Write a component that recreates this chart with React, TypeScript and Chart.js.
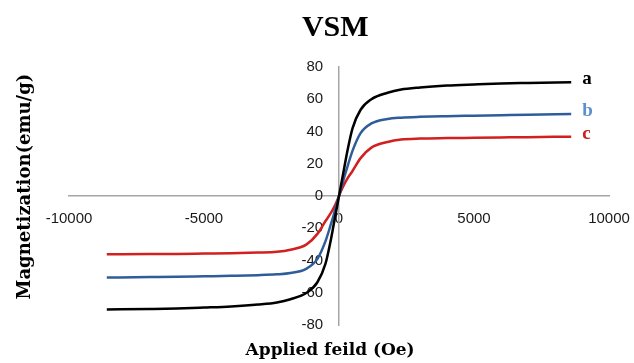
import React, { useEffect, useRef } from "react";
import { Chart, registerables } from "chart.js";

Chart.register(...registerables);

// Applied field (Oe)
const fieldOe = [
  -8600, -7000, -6000, -5000, -4000, -3000, -2300, -1800, -1200, -800, -500, -300, -200, -100,
  0, 100, 200, 300, 500, 800, 1200, 1800, 2300, 3000, 4000, 5000, 6000, 7000, 8600,
];

// Magnetization (emu/g)
const seriesA = [
  -70.4, -70.1, -69.8, -69.2, -68.5, -67.3, -66.0, -64.0, -60.0, -53.5, -42.0, -27.0, -18.0, -9.0,
  0, 9.0, 18.0, 27.0, 42.0, 53.5, 60.0, 64.0, 66.0, 67.3, 68.5, 69.2, 69.8, 70.1, 70.5,
];
const seriesB = [
  -50.6, -50.3, -50.1, -49.8, -49.5, -49.1, -48.6, -47.8, -45.0, -39.0, -28.0, -17.5, -12.0, -6.0,
  0, 6.0, 12.0, 17.5, 28.0, 39.0, 45.0, 47.8, 48.6, 49.1, 49.5, 49.8, 50.1, 50.4, 50.8,
];
const seriesC = [
  -36.2, -36.0, -35.9, -35.7, -35.5, -35.1, -34.6, -33.3, -30.0, -23.5, -15.5, -10.5, -7.5, -4.0,
  0, 4.0, 7.5, 10.5, 15.5, 23.5, 30.0, 33.5, 35.0, 35.6, 35.9, 36.1, 36.3, 36.5, 36.8,
];

const seriesNames = ["a", "b", "c"];
const seriesValues = [seriesA, seriesB, seriesC];
const lineColors = ["#000000", "#2f5d9a", "#d21f1f"];
const labelColors = ["#000000", "#5b8fd0", "#c8201e"];

const chartTitle = "VSM";
const xTitle = "Applied feild (Oe)";
const yTitle = "Magnetization(emu/g)";

const xMin = -10000;
const xMax = 10000;
const xStep = 5000;
const yMin = -80;
const yMax = 80;
const yStep = 20;

const endLabelPlugin = {
  id: "endLabels",
  afterDatasetsDraw(chart: any) {
    const ctx = chart.ctx;
    ctx.save();
    ctx.font = "bold 19px 'Liberation Serif'";
    ctx.textAlign = "left";
    ctx.textBaseline = "middle";
    chart.data.datasets.forEach((ds: any, i: number) => {
      const meta = chart.getDatasetMeta(i);
      const last = meta.data[meta.data.length - 1];
      if (!last) return;
      ctx.fillStyle = labelColors[i];
      ctx.fillText(seriesNames[i], last.x + 11, last.y - 3);
    });
    ctx.restore();
  },
};

export default function App() {
  const ref = useRef<HTMLCanvasElement | null>(null);

  useEffect(() => {
    if (!ref.current) return;
    const tickFont = { family: "'Liberation Sans', Arial, sans-serif", size: 15 };
    const chart = new Chart(ref.current, {
      type: "scatter",
      data: {
        datasets: seriesValues.map((vals, i) => ({
          label: seriesNames[i],
          data: fieldOe.map((x, j) => ({ x, y: vals[j] })),
          showLine: true,
          borderColor: lineColors[i],
          backgroundColor: lineColors[i],
          borderWidth: 2.5,
          pointRadius: 0,
          cubicInterpolationMode: "monotone" as const,
          xAxisID: "x",
          yAxisID: "y",
        })),
      },
      options: {
        responsive: false,
        animation: false,
        layout: { padding: { left: 0, right: 25, top: 0, bottom: 0 } },
        plugins: {
          legend: { display: false },
          tooltip: { enabled: false },
          title: {
            display: true,
            text: chartTitle + " ",
            fullSize: false,
            color: "#000",
            font: { family: "'Liberation Serif', serif", size: 30, weight: "bold" },
            padding: { top: 10, bottom: 21 },
          },
        },
        scales: {
          x: {
            type: "linear",
            min: xMin,
            max: xMax,
            position: { y: 0 } as any,
            ticks: {
              stepSize: xStep,
              autoSkip: false,
              maxRotation: 0,
              font: tickFont,
              color: "#1a1a1a",
              padding: 0,
              callback: (v: any) => String(v),
            },
            grid: { display: false, drawTicks: true, tickLength: 14 },
            border: { display: true, color: "#a6a6a6", width: 1.5 },
          },
          y: {
            type: "linear",
            min: yMin,
            max: yMax,
            position: { x: 0 } as any,
            ticks: {
              stepSize: yStep,
              autoSkip: false,
              font: tickFont,
              color: "#1a1a1a",
              callback: (v: any) => String(v) + "\u2002  ",
            },
            grid: { display: false, drawTicks: false },
            border: { display: true, color: "#a6a6a6", width: 1.5 },
          },
          x2: {
            type: "linear",
            position: "bottom",
            min: 0,
            max: 1,
            ticks: { display: false },
            grid: { display: false, drawTicks: false },
            border: { display: false },
            title: {
              display: true,
              text: xTitle + "   ",
              color: "#000",
              font: { family: "'DejaVu Serif', serif", size: 17, weight: "bold" },
              padding: { top: 15.6, bottom: 2 },
            },
          },
          y2: {
            type: "linear",
            position: "left",
            min: 0,
            max: 1,
            ticks: { display: false },
            grid: { display: false, drawTicks: false },
            border: { display: false },
            title: {
              display: true,
              text: "   " + yTitle,
              color: "#000",
              font: { family: "'DejaVu Serif', serif", size: 18, weight: "bold" },
              padding: { top: 14.7, bottom: 32.7 },
            },
          },
        },
      },
      plugins: [endLabelPlugin],
    });
    return () => chart.destroy();
  }, []);

  return (
    <div style={{ position: "fixed", left: 0, top: 0, width: 634, height: 363, background: "#fff" }}>
      <canvas ref={ref} width={634} height={363} style={{ display: "block" }} />
    </div>
  );
}
